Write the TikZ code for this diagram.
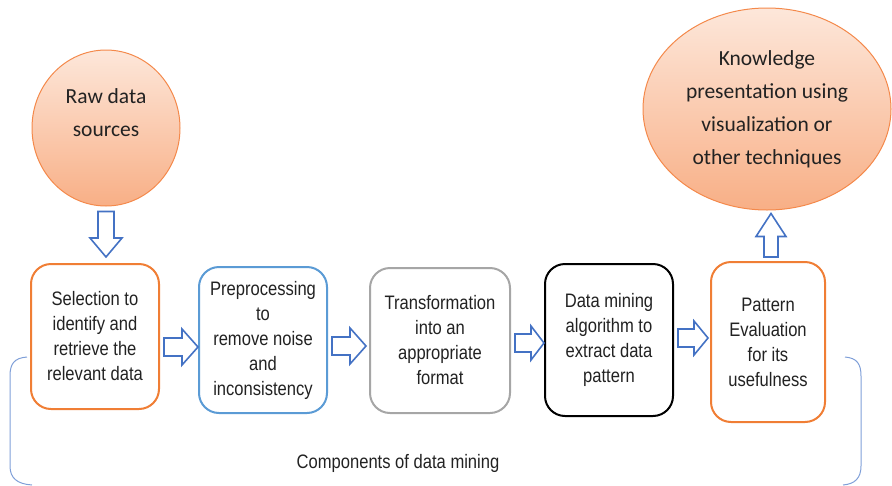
\documentclass[tikz,border=0pt]{standalone}
\usepackage{fontspec}
\usetikzlibrary{shapes.geometric,calc}
\setmainfont{Liberation Sans}
\newfontfamily\narrowfont[FakeStretch=0.85]{Liberation Sans}
\newfontfamily\calfont{Carlito}
\definecolor{peachTop}{HTML}{FDE7DA}
\definecolor{peachBot}{HTML}{F8AF86}
\definecolor{peachLine}{HTML}{F4894B}
\definecolor{boxOrange}{HTML}{F07E35}
\definecolor{boxBlue}{HTML}{5B9BD5}
\definecolor{boxGray}{HTML}{A6A6A6}
\definecolor{arrowBlue}{HTML}{4472C4}
\definecolor{braceBlue}{HTML}{7F9FD8}
\definecolor{ink}{HTML}{222222}
\tikzset{
  stepbox/.style={draw, line width=2pt, rounded corners=20pt, fill=white,
    align=center, text=ink, inner sep=0pt,
    font=\narrowfont\fontsize{19.5}{25}\selectfont},
  bubble/.style={ellipse, draw=peachLine, line width=1pt,
    top color=peachTop, bottom color=peachBot, inner sep=0pt},
  bubbletext/.style={align=center, text=ink,
    font=\calfont\fontsize{21.5}{33}\selectfont},
  blk/.style={draw=arrowBlue, line width=1.6pt, fill=white, line join=miter},
  bracket/.style={draw=braceBlue, line width=1pt}
}
% horizontal block arrow: start, tip, half shaft, half head, head length
\newcommand\harrow[5]{%
  \draw[blk] ($(#1)+(0,#3)$) -- ($(#2)+(-#5,#3)$) -- ($(#2)+(-#5,#4)$) -- (#2)
    -- ($(#2)+(-#5,-#4)$) -- ($(#2)+(-#5,-#3)$) -- ($(#1)+(0,-#3)$) -- cycle;}
% vertical block arrow (tip below or above the start, sign in #6)
\newcommand\varrow[6]{%
  \draw[blk] ($(#1)+(#3,0)$) -- ($(#2)+(#3,-#6*#5)$) -- ($(#2)+(#4,-#6*#5)$) -- (#2)
    -- ($(#2)+(-#4,-#6*#5)$) -- ($(#2)+(-#3,-#6*#5)$) -- ($(#1)+(-#3,0)$) -- cycle;}
\begin{document}
\begin{tikzpicture}[x=1pt,y=-1pt]
\useasboundingbox (0,0) rectangle (892,485);

% source and result bubbles
\node[bubble, minimum width=148pt, minimum height=156pt] (raw) at (106,128) {};
\node[bubbletext] (rawtxt) at ($(raw.center)+(0,-15)$) {Raw data\\sources};
\node[bubble, minimum width=248pt, minimum height=202pt] (know) at (767,109) {};
\node[bubbletext] (knowtxt) at (know.center) {Knowledge\\presentation using\\visualization or\\other techniques};

% processing steps
\node[stepbox, draw=boxOrange, minimum width=128pt, minimum height=145pt] (sel) at (95,336.5)
  {Selection to\\identify and\\retrieve the\\relevant data};
\node[stepbox, draw=boxBlue, minimum width=128pt, minimum height=146pt] (pre) at (263,340)
  {Preprocessing\\to\\remove noise\\and\\inconsistency};
\node[stepbox, draw=boxGray, minimum width=140pt, minimum height=145pt] (trans) at (440,340.5)
  {Transformation\\into an\\appropriate\\format};
\node[stepbox, draw=black, minimum width=128pt, minimum height=152pt] (mine) at (609,340)
  {Data mining\\algorithm to\\extract data\\pattern};
\node[stepbox, draw=boxOrange, minimum width=114pt, minimum height=160pt] (eval) at (768,342)
  {Pattern\\Evaluation\\for its\\usefulness};

% block arrows between the stages
\coordinate (d0) at ($(raw.south)+(0,5)$);
\coordinate (d1) at ($(sel.north)+(11,-6)$);
\varrow{d0}{d1}{8}{16}{19}{1}
\coordinate (h1s) at ($(sel.east)+(4,10.5)$);
\coordinate (h1e) at ($(pre.west)+(0,7)$);
\harrow{h1s}{h1e}{9}{18}{16}
\coordinate (h2s) at ($(pre.east)+(4,6)$);
\coordinate (h2e) at ($(trans.west)+(-3,5.5)$);
\harrow{h2s}{h2e}{9}{18}{16}
\coordinate (h3s) at ($(trans.east)+(4,2.5)$);
\coordinate (h3e) at ($(mine.west)+(0,3)$);
\harrow{h3s}{h3e}{9}{17}{13}
\coordinate (h4s) at ($(mine.east)+(4,-2)$);
\coordinate (h4e) at ($(eval.west)+(-2,-4)$);
\harrow{h4s}{h4e}{9}{17}{14}
\coordinate (u0) at ($(eval.north)+(3,-4)$);
\coordinate (u1) at ($(know.south)+(4,3)$);
\varrow{u0}{u1}{7}{15}{23}{-1}

% grouping bracket and its caption
\coordinate (bl) at (27,357);
\coordinate (br) at (845,357);
\draw[bracket] (bl) .. controls (14,358) and (10,364) .. (10,376) -- (10,466)
  .. controls (10,478) and (17,484) .. (32,485);
\draw[bracket] (br) .. controls (857,358) and (861,364) .. (861,376) -- (861,466)
  .. controls (861,478) and (855,484) .. (843,485);
\node[text=ink, font=\narrowfont\fontsize{19.5}{25}\selectfont] (cap) at (398,463)
  {Components of data mining};
\end{tikzpicture}
\end{document}
